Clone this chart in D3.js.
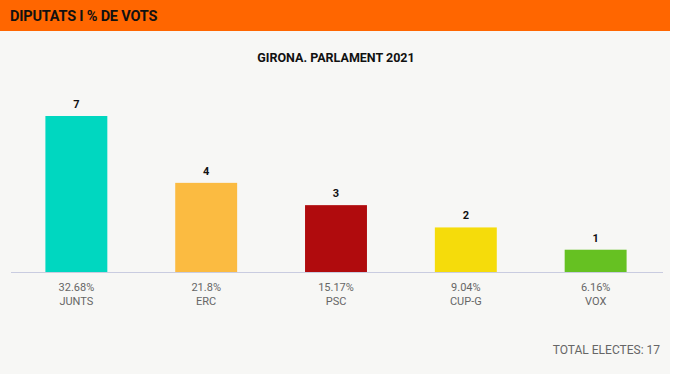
<!DOCTYPE html>
<html>
<head>
<meta charset="utf-8">
<script src="https://cdn.jsdelivr.net/npm/d3@7"></script>
<style>
  body { margin: 0; background: #fff; }
  svg { display: block; font-family: Roboto, "Noto Sans", sans-serif; }
</style>
</head>
<body>
<svg id="chart" width="676" height="376"></svg>
<script>
const parties = ["JUNTS", "ERC", "PSC", "CUP-G", "VOX"];
const seats = [7, 4, 3, 2, 1];
const votes = ["32.68%", "21.8%", "15.17%", "9.04%", "6.16%"];
const colors = ["#00d7c0", "#fbbb41", "#b00b0d", "#f5dc0b", "#66c122"];
const totalSeats = 17;

const W = 670, H = 374;
const svg = d3.select("#chart");

// panel background
svg.append("rect").attr("width", W).attr("height", H).attr("fill", "#f7f7f5");

// header bar
svg.append("rect").attr("width", W).attr("height", 31).attr("fill", "#ff6600");
svg.append("text")
  .attr("x", 10).attr("y", 21)
  .attr("font-size", "14.5px").attr("font-weight", "bold")
  .attr("fill", "#111")
  .attr("letter-spacing", "-0.2px")
  .text("DIPUTATS I % DE VOTS");

// chart title
svg.append("text")
  .attr("x", 336).attr("y", 62)
  .attr("text-anchor", "middle")
  .attr("font-size", "12.5px").attr("font-weight", "bold")
  .attr("fill", "#111")
  .text("GIRONA. PARLAMENT 2021");

const x = d3.scaleBand().domain(parties).range([11, 661]).paddingInner(0.523).paddingOuter(0.265);
const y = d3.scaleLinear().domain([0, 7]).range([272, 116]);

const data = parties.map((p, i) => ({ party: p, seats: seats[i], pct: votes[i], color: colors[i] }));

// bars
svg.append("g").selectAll("rect")
  .data(data)
  .join("rect")
  .attr("x", (d) => x(d.party))
  .attr("width", x.bandwidth())
  .attr("y", (d) => y(d.seats))
  .attr("height", (d) => y(0) - y(d.seats))
  .attr("fill", (d) => d.color);

// baseline
svg.append("line")
  .attr("x1", 11).attr("x2", 663)
  .attr("y1", y(0) + 0.5).attr("y2", y(0) + 0.5)
  .attr("stroke", "#c9cce0").attr("stroke-width", 1);

// seat labels
svg.append("g").selectAll("text")
  .data(data)
  .join("text")
  .attr("x", (d) => x(d.party) + x.bandwidth() / 2)
  .attr("y", (d) => y(d.seats) - 8)
  .attr("text-anchor", "middle")
  .attr("font-size", "11px").attr("font-weight", "bold")
  .attr("fill", "#111")
  .text((d) => d.seats);

// percentage + name labels
const lab = svg.append("g").selectAll("g")
  .data(data)
  .join("g")
  .attr("transform", (d) => `translate(${x(d.party) + x.bandwidth() / 2},0)`);
lab.append("text")
  .attr("y", 291).attr("text-anchor", "middle")
  .attr("font-size", "11px").attr("fill", "#666")
  .text((d) => d.pct);
lab.append("text")
  .attr("y", 305).attr("text-anchor", "middle")
  .attr("font-size", "11px").attr("fill", "#666")
  .text((d) => d.party);

// total
svg.append("text")
  .attr("x", 660).attr("y", 354)
  .attr("text-anchor", "end")
  .attr("font-size", "12px").attr("fill", "#666")
  .text("TOTAL ELECTES: " + totalSeats);
</script>
</body>
</html>
